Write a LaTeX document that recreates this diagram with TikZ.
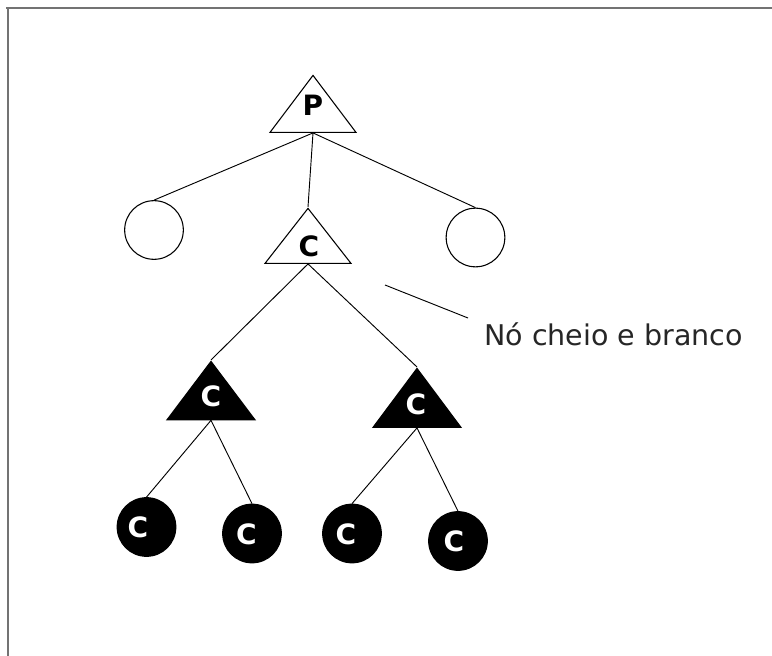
\documentclass[tikz,border=0pt]{standalone}
\usepackage{fontspec}
\setmainfont{DejaVu Sans}
\usetikzlibrary{shapes.geometric}
\tikzset{
  tri/.style={isosceles triangle, isosceles triangle stretches, shape border rotate=90,
    draw=black, line width=0.8pt, inner sep=0pt, minimum width=64.5pt, minimum height=42.75pt,
    anchor=apex},
  tri open/.style={tri, fill=white},
  tri full/.style={tri, fill=black, minimum width=66pt, minimum height=43.8pt},
  leaf/.style={circle, draw=black, line width=0.8pt, inner sep=0pt, minimum size=44pt},
  leaf open/.style={leaf, fill=white},
  leaf full/.style={leaf, fill=black},
  tag/.style={inner sep=0pt, font=\bfseries\fontsize{21}{24}\selectfont},
  tag dark/.style={tag, text=black},
  tag light/.style={tag, text=white},
  edge/.style={draw=black, line width=0.7pt},
  frame/.style={draw=black!55, line width=1.4pt}
}
\begin{document}
\begin{tikzpicture}[x=0.75pt, y=-0.75pt]
  \useasboundingbox (0,0) rectangle (772,656);
  % window frame (top and left edges)
  \draw[frame] (6,8) -- (772,8);
  \draw[frame] (8,8) -- (8,656);

  % root and first level
  \node[tri open] (p) at (313,74) {};
  \node[tag dark] (p-txt) at (313,105) {P};
  \node[leaf open] (l) at (154,230) {};
  \node[leaf open] (r) at (475.5,237.5) {};
  \node[tri open, minimum height=41.25pt] (c) at (308,207) {};
  \node[tag dark] (c-txt) at (309,246) {C};

  % second level
  \node[tri full] (bl) at (211,360) {};
  \node[tag light] (bl-txt) at (211,396.5) {C};
  \node[tri full, minimum height=44.25pt] (br) at (417,367) {};
  \node[tag light] (br-txt) at (416,404) {C};

  % leaves
  \node[leaf full] (c1) at (146.5,527) {};
  \node[tag light] (c1-txt) at (138,527.5) {C};
  \node[leaf full] (c2) at (252,533.5) {};
  \node[tag light] (c2-txt) at (246.5,534) {C};
  \node[leaf full] (c3) at (352,533.5) {};
  \node[tag light] (c3-txt) at (346,534) {C};
  \node[leaf full] (c4) at (458,541) {};
  \node[tag light] (c4-txt) at (454,541.5) {C};

  % tree edges
  \draw[edge] (p.lower side) -- (l.north);
  \draw[edge] (p.lower side) -- (c.apex);
  \draw[edge] (p.lower side) -- (r.north);
  \draw[edge] (c.lower side) -- (bl.apex);
  \draw[edge] (c.lower side) -- (br.apex);
  \draw[edge] (bl.lower side) -- (c1.north);
  \draw[edge] (bl.lower side) -- (c2.north);
  \draw[edge] (br.lower side) -- (c3.north);
  \draw[edge] (br.lower side) -- (c4.north);

  % annotation
  \node[anchor=base west, inner sep=0pt, font=\fontsize{21.4}{24}\selectfont, text=black!85]
    (note) at (484,345) {Nó cheio e branco};
  \coordinate (note-a) at (385,285);
  \coordinate (note-b) at (468,318);
  \draw[edge] (note-a) -- (note-b);
\end{tikzpicture}
\end{document}
